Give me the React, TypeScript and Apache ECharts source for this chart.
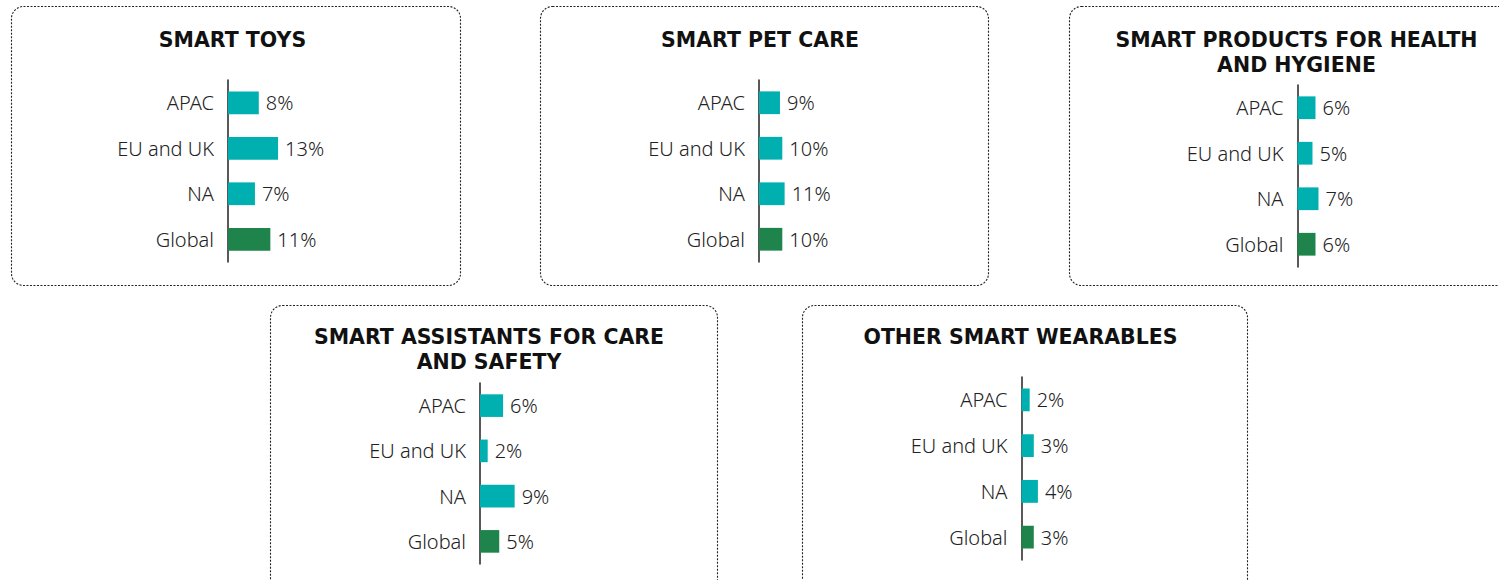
import React, { useEffect, useRef } from "react";
import * as echarts from "echarts";

const categories = ["APAC", "EU and UK", "NA", "Global"];
const titles = [
  ["SMART TOYS"],
  ["SMART PET CARE"],
  ["SMART PRODUCTS FOR HEALTH", "AND HYGIENE"],
  ["SMART ASSISTANTS FOR CARE", "AND SAFETY"],
  ["OTHER SMART WEARABLES"],
];
const smartToys = [8, 13, 7, 11];
const smartPetCare = [9, 10, 11, 10];
const healthHygiene = [6, 5, 7, 6];
const careSafety = [6, 2, 9, 5];
const otherWearables = [2, 3, 4, 3];
const seriesValues = [smartToys, smartPetCare, healthHygiene, careSafety, otherWearables];
const axisMax = 20;

// layout (pixels)
const panels = [
  { bx: 11, by: 6, bw: 449, bh: 279, axisX: 228, top: 80, h: 182, pxPer: 3.85, titleX: 232.5, titleTop: 28 },
  { bx: 540, by: 6, bw: 448, bh: 279, axisX: 759, top: 80, h: 182, pxPer: 2.33, titleX: 760, titleTop: 28 },
  { bx: 1069, by: 6, bw: 448, bh: 279, axisX: 1297.5, top: 85, h: 182, pxPer: 3.0, titleX: 1296.5, titleTop: 28 },
  { bx: 270, by: 305, bw: 447, bh: 290, axisX: 480, top: 383, h: 181, pxPer: 3.85, titleX: 489, titleTop: 325 },
  { bx: 802, by: 305, bw: 445, bh: 290, axisX: 1021.5, top: 377, h: 183, pxPer: 4.1, titleX: 1020.5, titleTop: 325 },
];
const LINE_GAP = 25;

const TEAL = "#00B0B0";
const GREEN = "#1E844B";
const FONT = "'Noto Sans', sans-serif";
const TITLE_FONT = "'DejaVu Sans', sans-serif";

export default function App() {
  const ref = useRef<HTMLDivElement>(null);
  useEffect(() => {
    document.body.style.margin = "0";
    if (!ref.current) return;
    const chart = echarts.init(ref.current, undefined, { renderer: "svg" });
    const grids: any[] = [];
    const xAxes: any[] = [];
    const yAxes: any[] = [];
    const series: any[] = [];
    const title: any[] = [];
    const graphic: any[] = [];
    panels.forEach((p, i) => {
      graphic.push({
        type: "rect",
        shape: { x: p.bx + 0.5, y: p.by + 0.5, width: p.bw, height: p.bh, r: 12 },
        style: { fill: "none", stroke: "#222", lineWidth: 1.1, lineDash: [2, 1.5] },
        silent: true,
      });
      titles[i].forEach((line, j) => {
        title.push({
          text: line,
          left: p.titleX,
          top: p.titleTop + j * LINE_GAP,
          textAlign: "center",
          padding: 0,
          textStyle: {
            fontFamily: TITLE_FONT,
            fontWeight: "bold",
            fontSize: 20.5,
            lineHeight: 24,
            color: "#111",
          },
        });
      });
      grids.push({
        left: p.axisX,
        top: p.top,
        height: p.h,
        width: axisMax * p.pxPer,
        containLabel: false,
      });
      xAxes.push({
        gridIndex: i,
        type: "value",
        min: 0,
        max: axisMax,
        show: false,
      });
      yAxes.push({
        gridIndex: i,
        type: "category",
        data: categories,
        inverse: true,
        axisLine: { show: true, lineStyle: { color: "#222", width: 1.5 } },
        axisTick: { show: false },
        axisLabel: { fontFamily: FONT, fontWeight: 300, fontSize: 20, color: "#222", margin: 14 },
      });
      series.push({
        type: "bar",
        xAxisIndex: i,
        yAxisIndex: i,
        barWidth: "50%",
        data: seriesValues[i].map((v, k) => ({
          value: v,
          itemStyle: { color: categories[k] === "Global" ? GREEN : TEAL },
        })),
        label: {
          show: true,
          position: "right",
          distance: 7,
          formatter: "{c}%",
          fontFamily: FONT,
          fontWeight: 300,
          fontSize: 20,
          color: "#222",
        },
      });
    });
    chart.setOption({
      animation: false,
      title,
      grid: grids,
      xAxis: xAxes,
      yAxis: yAxes,
      series,
      graphic,
    });
    return () => chart.dispose();
  }, []);
  return <div ref={ref} style={{ width: 1499, height: 580 }} />;
}
